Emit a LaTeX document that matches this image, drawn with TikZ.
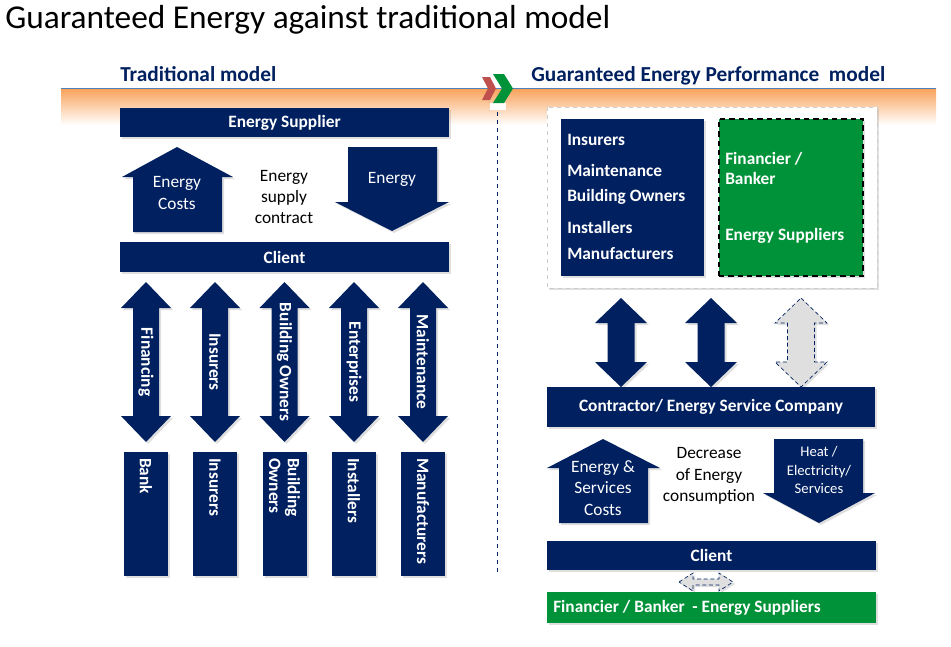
\documentclass[tikz,border=0pt]{standalone}
\usepackage{fontspec}
\setmainfont{Carlito}
\usetikzlibrary{shadows}
\definecolor{navy}{RGB}{0,32,96}
\definecolor{grn}{RGB}{0,146,56}
\definecolor{chevred}{RGB}{192,80,77}
\definecolor{orng}{RGB}{247,150,70}
\definecolor{rulebl}{RGB}{79,129,189}

\begin{document}
\begin{tikzpicture}[x=0.75pt,y=-0.75pt,
  shd/.style={drop shadow={shadow xshift=1.5pt,shadow yshift=-1.5pt,opacity=0.25}},
  bar/.style={fill=navy,text=white,font=\bfseries\fontsize{13}{15}\selectfont,inner sep=0pt,shd},
  blk/.style={fill=navy,shd},
  ghost/.style={fill=gray!25,draw=navy,densely dashed,line width=0.5pt,shd},
  wtxt/.style={text=white,font=\fontsize{13}{16}\selectfont,align=center,inner sep=0pt},
  btxt/.style={text=white,font=\bfseries\fontsize{13}{15}\selectfont,inner sep=0pt},
  ktxt/.style={font=\fontsize{13}{16}\selectfont,align=center,inner sep=0pt},
  head/.style={text=navy,font=\bfseries\fontsize{16}{18}\selectfont,inner sep=0pt}]
\useasboundingbox (0,0) rectangle (951,647);

% title and headers
\node[anchor=base west,font=\fontsize{25}{28}\selectfont,inner sep=0pt] (title) at (5,28) {Guaranteed Energy against traditional model};
\shade[top color=orng!90,middle color=orng!30,bottom color=white] (61,88) rectangle (936,125);
\draw[rulebl,line width=0.75pt] (61,88) -- (936,88);
\node[anchor=base west,head] (trad) at (120,81) {Traditional model};
\node[anchor=base west,head] (gep) at (531,81) {Guaranteed Energy Performance\ \ model};
\path[fill=white] (490,103) rectangle (506,110);
\path[fill=chevred] (482,77) -- (490,77) -- (496,88.5) -- (490,100) -- (482,100) -- (488,88.5) -- cycle;
\path[fill=grn] (493,74) -- (504,74) -- (513,88.5) -- (504,103) -- (493,103) -- (502,88.5) -- cycle;
\draw[navy,line width=0.75pt,dash pattern=on 3pt off 3pt] (497,112) -- (497,575);

% traditional model
\node[bar,minimum width=246.75pt,minimum height=21.75pt] (sup) at (284.5,122.5) {Energy Supplier};
\node[bar,minimum width=246.75pt,minimum height=22.5pt] (cliL) at (284.5,257) {Client};
\path[blk] (177,147) -- (233,177) -- (222,177) -- (222,232) -- (133,232) -- (133,177) -- (122,177) -- cycle;
\node[wtxt] (costs) at (177,193) {Energy\\Costs};
\path[blk] (348,147) -- (437,147) -- (437,202) -- (449,202) -- (392,231) -- (335,202) -- (348,202) -- cycle;
\node[wtxt] (enrg) at (392,179) {Energy};
\node[ktxt] (contract) at (284,197) {Energy\\supply\\contract};

\begin{scope}[shift={(146,362)}]
\path[blk] (0,-80) -- (25,-54) -- (13,-54) -- (13,54) -- (25,54) -- (0,80) -- (-25,54) -- (-13,54) -- (-13,-54) -- (-25,-54) -- cycle;
\node[btxt,rotate=-90] (fin) at (0,0) {Financing};
\path[blk] (-22,90) rectangle (22,214);
\node[btxt,rotate=-90,anchor=west] (bank) at (0,96) {Bank};
\end{scope}
\begin{scope}[shift={(215,362)}]
\path[blk] (0,-80) -- (25,-54) -- (13,-54) -- (13,54) -- (25,54) -- (0,80) -- (-25,54) -- (-13,54) -- (-13,-54) -- (-25,-54) -- cycle;
\node[btxt,rotate=-90] (ins) at (0,0) {Insurers};
\path[blk] (-22,90) rectangle (22,214);
\node[btxt,rotate=-90,anchor=west] (insb) at (0,96) {Insurers};
\end{scope}
\begin{scope}[shift={(284.5,362)}]
\path[blk] (0,-80) -- (25,-54) -- (13,-54) -- (13,54) -- (25,54) -- (0,80) -- (-25,54) -- (-13,54) -- (-13,-54) -- (-25,-54) -- cycle;
\node[btxt,rotate=-90] (own) at (0,0) {Building Owners};
\path[blk] (-22,90) rectangle (22,214);
\node[btxt,rotate=-90,anchor=west,align=left,font=\bfseries\fontsize{13}{14}\selectfont] (ownb) at (0,96) {Building\\Owners};
\end{scope}
\begin{scope}[shift={(354,362)}]
\path[blk] (0,-80) -- (25,-54) -- (13,-54) -- (13,54) -- (25,54) -- (0,80) -- (-25,54) -- (-13,54) -- (-13,-54) -- (-25,-54) -- cycle;
\node[btxt,rotate=-90] (ent) at (0,0) {Enterprises};
\path[blk] (-22,90) rectangle (22,214);
\node[btxt,rotate=-90,anchor=west] (inst) at (0,96) {Installers};
\end{scope}
\begin{scope}[shift={(423,362)}]
\path[blk] (0,-80) -- (25,-54) -- (13,-54) -- (13,54) -- (25,54) -- (0,80) -- (-25,54) -- (-13,54) -- (-13,-54) -- (-25,-54) -- cycle;
\node[btxt,rotate=-90] (mnt) at (0,0) {Maintenance};
\path[blk] (-22,90) rectangle (22,214);
\node[btxt,rotate=-90,anchor=west] (man) at (0,96) {Manufacturers};
\end{scope}

% guaranteed energy performance model
\path[fill=white,draw=gray!40,dashed,shd] (547,107) rectangle (877,288);
\node[fill=navy,minimum width=107.25pt,minimum height=117.75pt,shd] (grp) at (632.5,197.5) {};
\node[btxt,anchor=west] (g1) at (567,140) {Insurers};
\node[btxt,anchor=west] (g2) at (567,170) {Maintenance};
\node[btxt,anchor=west] (g3) at (567,197) {Building Owners};
\node[btxt,anchor=west] (g4) at (567,227) {Installers};
\node[btxt,anchor=west] (g5) at (567,254) {Manufacturers};
\node[fill=grn,draw=black,line width=1.5pt,dash pattern=on 4pt off 3pt,minimum width=108pt,minimum height=117.75pt,shd] (fb) at (791,197.5) {};
\node[btxt,anchor=west,align=left] (fb1) at (725,168) {Financier /\\Banker};
\node[btxt,anchor=west] (fb2) at (725,236) {Energy Suppliers};

\begin{scope}[shift={(621,342.5)}]
\path[blk] (0,-44.5) -- (26,-19.5) -- (13.5,-19.5) -- (13.5,19.5) -- (26,19.5) -- (0,44.5) -- (-26,19.5) -- (-13.5,19.5) -- (-13.5,-19.5) -- (-26,-19.5) -- cycle;
\end{scope}
\begin{scope}[shift={(711,342.5)}]
\path[blk] (0,-44.5) -- (26,-19.5) -- (13.5,-19.5) -- (13.5,19.5) -- (26,19.5) -- (0,44.5) -- (-26,19.5) -- (-13.5,19.5) -- (-13.5,-19.5) -- (-26,-19.5) -- cycle;
\end{scope}
\begin{scope}[shift={(801,342.5)}]
\path[ghost] (0,-44.5) -- (26,-19.5) -- (13.5,-19.5) -- (13.5,19.5) -- (26,19.5) -- (0,44.5) -- (-26,19.5) -- (-13.5,19.5) -- (-13.5,-19.5) -- (-26,-19.5) -- cycle;
\end{scope}

\node[bar,minimum width=246pt,minimum height=30pt] (esco) at (711,407) {Contractor/ Energy Service Company};
\path[blk] (603,439) -- (660,468) -- (648,468) -- (648,523) -- (559,523) -- (559,468) -- (547,468) -- cycle;
\node[wtxt] (escost) at (603,488) {Energy \&\\Services\\Costs};
\node[ktxt] (decr) at (709,476) {Decrease\\of Energy\\consumption};
\path[blk] (774,439) -- (863,439) -- (863,493) -- (875,493) -- (819,523) -- (763,493) -- (774,493) -- cycle;
\node[wtxt,font=\fontsize{11}{14}\selectfont] (heat) at (819,470) {Heat /\\Electricity/\\Services};
\node[bar,minimum width=246.75pt,minimum height=21.75pt] (cliR) at (711.5,555.5) {Client};
\path[ghost] (679,582) -- (693,573) -- (693,579) -- (719,579) -- (719,573) -- (733,582) -- (719,591) -- (719,585) -- (693,585) -- (693,591) -- cycle;
\node[fill=grn,minimum width=246.75pt,minimum height=23.25pt,inner sep=0pt,shd] (fes) at (711.5,607.5) {};
\node[btxt,anchor=west] (fest) at (553,607.5) {Financier / Banker\ \ - Energy Suppliers};
\end{tikzpicture}
\end{document}
